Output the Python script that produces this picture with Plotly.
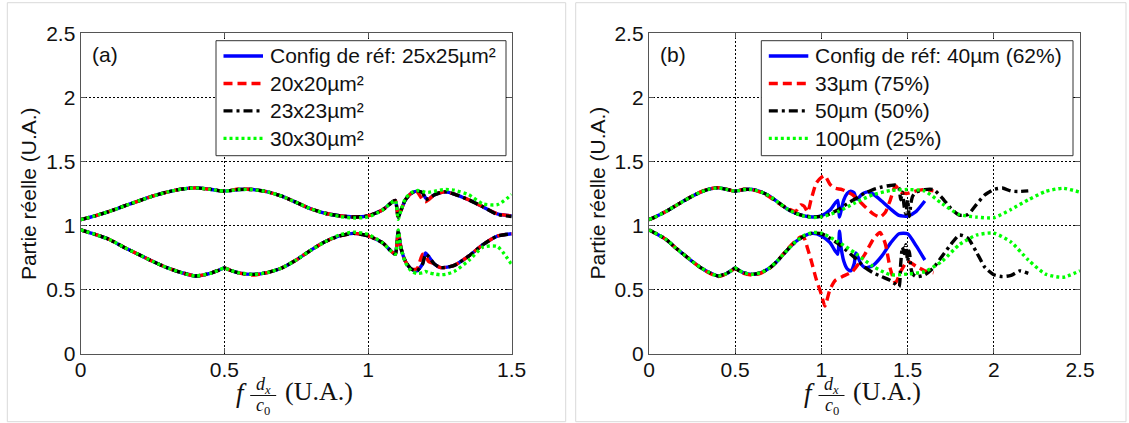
import plotly.graph_objects as go

W, H = 1129, 423

# ---------------- Panel (a) data ----------------
XA = [0, 0.05, 0.1, 0.15, 0.2, 0.25, 0.3, 0.35, 0.4, 0.45, 0.48, 0.5, 0.52, 0.55, 0.6, 0.65, 0.7, 0.75,
      0.8, 0.85, 0.9, 0.95, 1.0, 1.05, 1.08, 1.095, 1.105, 1.115, 1.13, 1.15, 1.17, 1.19, 1.2, 1.21,
      1.23, 1.25, 1.27, 1.3, 1.35, 1.4, 1.45, 1.5]

A_REF_UP = [1.045, 1.075, 1.11, 1.15, 1.19, 1.228, 1.26, 1.283, 1.293, 1.282, 1.272, 1.268, 1.272, 1.28,
            1.28, 1.262, 1.228, 1.18, 1.13, 1.095, 1.075, 1.066, 1.075, 1.12, 1.175, 1.195, 1.065, 1.12,
            1.2, 1.25, 1.268, 1.255, 1.215, 1.205, 1.238, 1.255, 1.262, 1.245, 1.2, 1.145, 1.09, 1.075]
A_REF_LO = [0.965, 0.93, 0.89, 0.83, 0.775, 0.72, 0.67, 0.632, 0.605, 0.625, 0.65, 0.668, 0.65, 0.63,
            0.618, 0.632, 0.668, 0.73, 0.805, 0.872, 0.918, 0.938, 0.918, 0.865, 0.8, 0.775, 0.955, 0.82,
            0.72, 0.66, 0.645, 0.7, 0.785, 0.76, 0.7, 0.672, 0.672, 0.688, 0.76, 0.85, 0.917, 0.935]

A_20_UP = [1.045, 1.075, 1.11, 1.15, 1.19, 1.228, 1.26, 1.283, 1.293, 1.282, 1.272, 1.268, 1.272, 1.285,
           1.28, 1.262, 1.228, 1.18, 1.13, 1.095, 1.075, 1.066, 1.075, 1.12, 1.175, 1.195, 1.065, 1.12,
           1.2, 1.25, 1.262, 1.2, 1.185, 1.2, 1.238, 1.255, 1.262, 1.245, 1.2, 1.145, 1.09, 1.075]
A_20_LO = [0.965, 0.93, 0.89, 0.83, 0.775, 0.72, 0.67, 0.632, 0.605, 0.625, 0.65, 0.668, 0.65, 0.63,
           0.612, 0.632, 0.668, 0.73, 0.805, 0.872, 0.918, 0.938, 0.918, 0.865, 0.8, 0.775, 0.955, 0.82,
           0.72, 0.66, 0.66, 0.775, 0.77, 0.72, 0.7, 0.672, 0.672, 0.688, 0.76, 0.85, 0.917, 0.935]

A_23_UP = [1.045, 1.075, 1.11, 1.15, 1.19, 1.228, 1.26, 1.283, 1.293, 1.282, 1.272, 1.268, 1.272, 1.28,
           1.28, 1.262, 1.228, 1.18, 1.13, 1.095, 1.075, 1.066, 1.075, 1.12, 1.175, 1.195, 1.065, 1.12,
           1.2, 1.25, 1.268, 1.255, 1.2, 1.21, 1.238, 1.255, 1.262, 1.245, 1.2, 1.145, 1.085, 1.07]
A_23_LO = [0.965, 0.93, 0.89, 0.83, 0.775, 0.72, 0.67, 0.632, 0.605, 0.625, 0.65, 0.668, 0.65, 0.63,
           0.618, 0.632, 0.668, 0.73, 0.805, 0.872, 0.918, 0.938, 0.918, 0.865, 0.8, 0.775, 0.955, 0.82,
           0.72, 0.66, 0.645, 0.7, 0.775, 0.76, 0.7, 0.672, 0.672, 0.688, 0.76, 0.85, 0.917, 0.935]

A_30_UP = [1.045, 1.075, 1.11, 1.15, 1.19, 1.228, 1.26, 1.283, 1.293, 1.282, 1.272, 1.268, 1.272, 1.28,
           1.28, 1.262, 1.228, 1.18, 1.13, 1.095, 1.07, 1.058, 1.066, 1.12, 1.175, 1.195, 1.048, 1.12,
           1.21, 1.255, 1.272, 1.265, 1.258, 1.258, 1.266, 1.275, 1.28, 1.275, 1.24, 1.168, 1.162, 1.24]
A_30_LO = [0.965, 0.93, 0.89, 0.83, 0.775, 0.72, 0.67, 0.632, 0.605, 0.625, 0.65, 0.668, 0.65, 0.63,
           0.618, 0.632, 0.668, 0.73, 0.805, 0.872, 0.925, 0.948, 0.93, 0.865, 0.8, 0.775, 0.965, 0.82,
           0.71, 0.645, 0.625, 0.63, 0.64, 0.632, 0.622, 0.615, 0.618, 0.64, 0.725, 0.83, 0.835, 0.695]

# ---------------- Panel (b) data ----------------
XB_REF = XA + [1.55, 1.6]
B_REF_UP = [1.045, 1.075, 1.11, 1.15, 1.19, 1.228, 1.26, 1.283, 1.293, 1.282, 1.272, 1.268, 1.272, 1.28,
            1.28, 1.262, 1.228, 1.18, 1.13, 1.095, 1.075, 1.066, 1.075, 1.12, 1.175, 1.195, 1.065, 1.12,
            1.2, 1.25, 1.268, 1.255, 1.215, 1.205, 1.238, 1.255, 1.262, 1.245, 1.19, 1.13, 1.078, 1.073,
            1.11, 1.19]
B_REF_LO = [0.965, 0.93, 0.89, 0.83, 0.775, 0.72, 0.67, 0.632, 0.605, 0.625, 0.65, 0.668, 0.65, 0.63,
            0.618, 0.632, 0.668, 0.73, 0.805, 0.872, 0.918, 0.938, 0.918, 0.865, 0.8, 0.775, 0.955, 0.82,
            0.72, 0.66, 0.645, 0.7, 0.785, 0.76, 0.7, 0.672, 0.672, 0.688, 0.76, 0.86, 0.935, 0.935,
            0.84, 0.73]

XB_33 = [0, 0.05, 0.1, 0.15, 0.2, 0.25, 0.3, 0.35, 0.4, 0.45, 0.48, 0.5, 0.52, 0.55, 0.6, 0.65, 0.7, 0.75,
         0.8, 0.85, 0.88, 0.9, 0.92, 0.94, 0.97, 1.0, 1.02, 1.05, 1.08, 1.12, 1.18, 1.25, 1.3, 1.34, 1.37,
         1.4, 1.43, 1.46, 1.5, 1.55, 1.6, 1.65]
B_33_UP = [1.045, 1.075, 1.11, 1.15, 1.19, 1.228, 1.262, 1.285, 1.295, 1.283, 1.272, 1.268, 1.272, 1.282,
           1.278, 1.258, 1.222, 1.175, 1.135, 1.11, 1.16, 1.15, 1.105, 1.2, 1.33, 1.375, 1.388, 1.32,
           1.29, 1.28, 1.24, 1.15, 1.09, 1.065, 1.1, 1.2, 1.31, 1.26, 1.25, 1.27, 1.28, 1.27]
B_33_LO = [0.965, 0.93, 0.89, 0.83, 0.775, 0.72, 0.668, 0.628, 0.6, 0.622, 0.648, 0.665, 0.648, 0.625,
           0.612, 0.628, 0.665, 0.73, 0.81, 0.88, 0.91, 0.9, 0.82, 0.73, 0.58, 0.46, 0.37, 0.5, 0.57,
           0.6, 0.64, 0.77, 0.89, 0.945, 0.86, 0.66, 0.55, 0.64, 0.72, 0.68, 0.645, 0.63]

XB_50 = [0, 0.05, 0.1, 0.15, 0.2, 0.25, 0.3, 0.35, 0.4, 0.45, 0.48, 0.5, 0.52, 0.55, 0.6, 0.65, 0.7, 0.75,
         0.8, 0.85, 0.9, 0.95, 1.0, 1.05, 1.1, 1.15, 1.2, 1.25, 1.3, 1.35, 1.4, 1.43, 1.45, 1.46, 1.47,
         1.48, 1.49, 1.5, 1.51, 1.52, 1.53, 1.55, 1.6, 1.65, 1.7, 1.75, 1.8, 1.85, 1.9, 1.95, 2.0, 2.05,
         2.1, 2.15, 2.2]
B_50_UP = [1.045, 1.075, 1.11, 1.15, 1.19, 1.228, 1.26, 1.283, 1.293, 1.282, 1.272, 1.268, 1.272, 1.28,
           1.28, 1.262, 1.228, 1.18, 1.13, 1.095, 1.075, 1.066, 1.07, 1.09, 1.125, 1.17, 1.21, 1.25, 1.28,
           1.3, 1.312, 1.315, 1.29, 1.2, 1.26, 1.15, 1.09, 1.2, 1.07, 1.18, 1.23, 1.26, 1.28, 1.28,
           1.215, 1.135, 1.08, 1.085, 1.165, 1.24, 1.28, 1.292, 1.268, 1.265, 1.27]
B_50_LO = [0.965, 0.93, 0.89, 0.83, 0.775, 0.72, 0.67, 0.632, 0.605, 0.625, 0.65, 0.668, 0.65, 0.63,
           0.618, 0.632, 0.668, 0.73, 0.805, 0.872, 0.918, 0.94, 0.935, 0.9, 0.855, 0.8, 0.74, 0.675, 0.63,
           0.6, 0.57, 0.54, 0.52, 0.7, 0.83, 0.78, 0.85, 0.72, 0.8, 0.66, 0.62, 0.6, 0.615, 0.67, 0.76,
           0.85, 0.925, 0.9, 0.79, 0.67, 0.615, 0.6, 0.61, 0.645, 0.625]

XB_100 = [0, 0.05, 0.1, 0.15, 0.2, 0.25, 0.3, 0.35, 0.4, 0.45, 0.48, 0.5, 0.52, 0.55, 0.6, 0.65, 0.7, 0.75,
          0.8, 0.85, 0.9, 0.95, 1.0, 1.1, 1.2, 1.3, 1.4, 1.5, 1.6, 1.7, 1.8, 1.9, 2.0, 2.1, 2.2, 2.3,
          2.4, 2.5]
B_100_UP = [1.045, 1.075, 1.11, 1.15, 1.19, 1.228, 1.26, 1.283, 1.293, 1.282, 1.272, 1.268, 1.272, 1.28,
            1.28, 1.262, 1.228, 1.18, 1.13, 1.095, 1.072, 1.062, 1.066, 1.11, 1.18, 1.24, 1.272, 1.28,
            1.268, 1.17, 1.085, 1.065, 1.06, 1.125, 1.2, 1.265, 1.29, 1.26]
B_100_LO = [0.965, 0.93, 0.89, 0.83, 0.775, 0.72, 0.67, 0.632, 0.605, 0.625, 0.65, 0.668, 0.65, 0.63,
            0.618, 0.632, 0.668, 0.73, 0.805, 0.872, 0.922, 0.945, 0.94, 0.87, 0.78, 0.68, 0.615, 0.62,
            0.64, 0.72, 0.85, 0.925, 0.94, 0.87, 0.73, 0.62, 0.595, 0.645]

LEG_A = ["Config de réf: 25x25µm²", "20x20µm²", "23x23µm²", "30x30µm²"]
LEG_B = ["Config de réf: 40µm (62%)", "33µm (75%)", "50µm (50%)", "100µm (25%)"]
X_TICKS_A = [0, 0.5, 1, 1.5]
X_TICKS_B = [0, 0.5, 1, 1.5, 2, 2.5]
Y_TICKS = [0, 0.5, 1, 1.5, 2, 2.5]

COLORS = ["#0000ff", "#ff0000", "#000000", "#00ff00"]
DASHES = ["solid", "9px,5px", "9px,4px,3px,4px", "3px,3px"]

SANS = "Liberation Sans, Arial, sans-serif"
SERIF = "Liberation Serif, Times New Roman, serif"
FS = 21
LW = 3.4

fig = go.Figure()

series_a = [(XA, A_REF_UP, A_REF_LO), (XA, A_20_UP, A_20_LO), (XA, A_23_UP, A_23_LO), (XA, A_30_UP, A_30_LO)]
series_b = [(XB_REF, B_REF_UP, B_REF_LO), (XB_33, B_33_UP, B_33_LO), (XB_50, B_50_UP, B_50_LO),
            (XB_100, B_100_UP, B_100_LO)]

for panel, series, names, xa, ya in [("a", series_a, LEG_A, "x", "y"), ("b", series_b, LEG_B, "x2", "y2")]:
    for i, (xs, up, lo) in enumerate(series):
        line = dict(color=COLORS[i], width=LW, dash=DASHES[i], shape="spline", smoothing=0.6)
        for ys in (up, lo):
            fig.add_trace(go.Scatter(x=xs, y=ys, mode="lines", line=line, name=names[i],
                                     showlegend=False, xaxis=xa, yaxis=ya, hoverinfo="skip"))

ydom = [(H - 353.5) / H, (H - 33.3) / H]
A_L, A_R = 80.7, 511.7
B_L, B_R = 649.0, 1080.0


def axis_common():
    return dict(showgrid=True, gridcolor="black", griddash="2px,2px", gridwidth=1,
                showline=True, linecolor="#555", linewidth=1.3, mirror="ticks",
                ticks="inside", ticklen=5, tickcolor="#555", zeroline=False,
                tickfont=dict(family=SANS, size=FS, color="#111"), automargin=False, fixedrange=True)


def xaxis_cfg(dom, rng, ticks, anchor):
    d = axis_common()
    d.update(domain=dom, range=rng, tickvals=ticks, ticktext=[f"{t:g}" for t in ticks], anchor=anchor,
             ticklabelstandoff=-3)
    return d


def yaxis_cfg(anchor):
    d = axis_common()
    d.update(domain=ydom, range=[0, 2.5], tickvals=Y_TICKS, ticktext=[f"{t:g}" for t in Y_TICKS],
             anchor=anchor)
    return d


fig.update_layout(
    width=W, height=H, margin=dict(l=0, r=0, t=0, b=0), template="none",
    paper_bgcolor="white", plot_bgcolor="white", showlegend=False,
    xaxis=xaxis_cfg([A_L / W, A_R / W], [0, 1.5], X_TICKS_A, "y"),
    yaxis=yaxis_cfg("x"),
    xaxis2=xaxis_cfg([B_L / W, B_R / W], [0, 2.5], X_TICKS_B, "y2"),
    yaxis2=yaxis_cfg("x2"),
)

shapes = []
annotations = []


def px(x, y):
    return x / W, 1 - y / H


# panel frames
for x0, x1 in [(7.3, 565.7), (575.7, 1126)]:
    (a0, b0), (a1, b1) = px(x0, 421.7), px(x1, 2.7)
    shapes.append(dict(type="rect", xref="paper", yref="paper", x0=a0, x1=a1, y0=b0, y1=b1,
                       line=dict(color="#d9d9d9", width=1), layer="below"))

for lab, lx, (l, r), names, (lg0, lg1) in [("(a)", 90, (A_L, A_R), LEG_A, (216, 506)),
                                           ("(b)", 658, (B_L, B_R), LEG_B, (761.3, 1073))]:
    x, y = px(lx, 55)
    annotations.append(dict(text=lab, x=x, y=y, xref="paper", yref="paper", xanchor="left",
                            yanchor="middle", showarrow=False, font=dict(family=SANS, size=FS, color="#111")))
    # y title
    x, y = px(l - 52, 193.4)
    annotations.append(dict(text="Partie réelle (U.A.)", x=x, y=y, xref="paper", yref="paper",
                            textangle=-90, xanchor="center", yanchor="middle", showarrow=False,
                            font=dict(family=SANS, size=FS, color="#111")))
    # x title: f (dx / c0) (U.A.)
    c = (l + r) / 2
    x, y = px(c - 55, 393)
    annotations.append(dict(text="<i>f</i>", x=x, y=y, xref="paper", yref="paper", xanchor="center",
                            yanchor="middle", showarrow=False, font=dict(family=SERIF, size=27, color="#111")))
    x, y = px(c - 33, 398)
    annotations.append(dict(text="<i>d<sub>x</sub></i>", x=x, y=y, xref="paper", yref="paper",
                            xanchor="center", yanchor="bottom", showarrow=False, borderpad=0,
                            font=dict(family=SERIF, size=18, color="#111")))
    x, y = px(c - 33, 394)
    annotations.append(dict(text="<i>c</i><sub>0</sub>", x=x, y=y, xref="paper", yref="paper",
                            xanchor="center", yanchor="top", showarrow=False, borderpad=0,
                            font=dict(family=SERIF, size=18, color="#111")))
    x0, y0 = px(c - 46, 395.5)
    x1, _ = px(c - 20, 395.5)
    shapes.append(dict(type="line", xref="paper", yref="paper", x0=x0, x1=x1, y0=y0, y1=y0,
                       line=dict(color="#111", width=1)))
    x, y = px(c + 22.5, 391)
    annotations.append(dict(text="(U.A.)", x=x, y=y, xref="paper", yref="paper", xanchor="center",
                            yanchor="middle", showarrow=False, font=dict(family=SERIF, size=26, color="#111")))

    # legend box (drawn by hand)
    (a0, b0), (a1, b1) = px(lg0, 155.7), px(lg1, 40.7)
    shapes.append(dict(type="rect", xref="paper", yref="paper", x0=a0, x1=a1, y0=b0, y1=b1,
                       fillcolor="white", line=dict(color="#333", width=1), layer="above"))
    for i, name in enumerate(names):
        ry = 56 + i * 27.45
        (s0, sy), (s1, _) = px(lg0 + 7.5, ry), px(lg0 + 47, ry)
        shapes.append(dict(type="line", xref="paper", yref="paper", x0=s0, x1=s1, y0=sy, y1=sy,
                           line=dict(color=COLORS[i], width=LW, dash=DASHES[i]), layer="above"))
        tx, ty = px(lg0 + 52, ry)
        annotations.append(dict(text=name, x=tx, y=ty, xref="paper", yref="paper", xanchor="left",
                                yanchor="middle", showarrow=False, font=dict(family=SANS, size=FS, color="#111")))

fig.update_layout(shapes=shapes, annotations=annotations)
fig.write_html("out.html", config={"displayModeBar": False},
               post_script="document.body.style.margin='0';document.body.style.overflow='hidden';")
